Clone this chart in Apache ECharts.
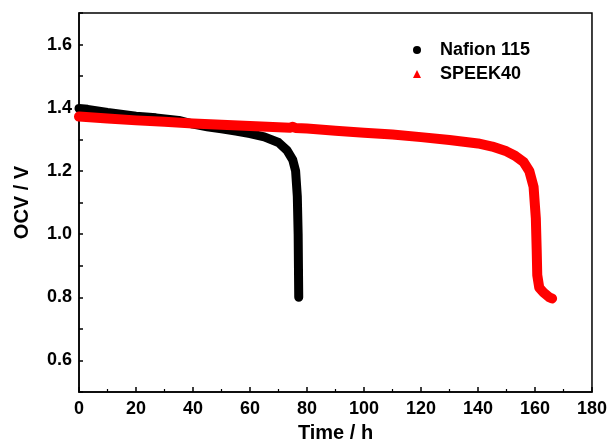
<!DOCTYPE html>
<html>
<head>
<meta charset="utf-8">
<script src="https://cdn.jsdelivr.net/npm/echarts@6/dist/echarts.min.js"></script>
<style>
  html, body { margin: 0; padding: 0; background: #fff; }
  #chart { width: 610px; height: 448px; }
</style>
</head>
<body>
<div id="chart"></div>
<script>
// OCV self-discharge curves
const nafionTime = [0, 3, 10, 20, 27, 35, 40, 45, 50, 55, 60, 65, 70, 73, 75, 76, 76.6, 76.9, 77.0, 77.1];
const nafionOcv = [1.398, 1.395, 1.385, 1.373, 1.368, 1.36, 1.348, 1.34, 1.333, 1.326, 1.318, 1.308, 1.29, 1.265, 1.235, 1.2, 1.12, 1.0, 0.9, 0.8];

const speekTime = [0, 10, 20, 30, 40, 50, 60, 70, 74, 75, 76, 80, 90, 100, 110, 120, 130, 140, 145, 150, 153, 156, 158, 159.5, 160.3, 160.6, 160.8, 161.5, 163, 165, 166];
const speekOcv = [1.372, 1.366, 1.36, 1.356, 1.35, 1.346, 1.342, 1.338, 1.337, 1.34, 1.336, 1.334, 1.327, 1.321, 1.315, 1.307, 1.298, 1.287, 1.277, 1.262, 1.248, 1.228, 1.2, 1.15, 1.05, 0.95, 0.87, 0.83, 0.815, 0.8, 0.796];

const seriesNames = ["Nafion 115", "SPEEK40"];
const seriesColors = ["#000000", "#ff0000"];

const zip = (xs, ys) => xs.map((x, i) => [x, ys[i]]);

const font = "Liberation Sans, Arial, sans-serif";
const myChart = echarts.init(document.getElementById("chart"));

var option = {
  animation: false,
  grid: {
    left: 79, right: 12, top: 13, bottom: 53,
    show: true, borderColor: "#000", borderWidth: 1.5
  },
  legend: {
    orient: "vertical",
    left: 408,
    top: 36,
    itemWidth: 8,
    itemHeight: 8,
    itemGap: 6,
    textStyle: {
      fontFamily: font, fontWeight: "bold", fontSize: 18, color: "#000",
      padding: [0, 0, 0, 14]
    },
    data: [
      { name: seriesNames[0], icon: "circle" },
      { name: seriesNames[1], icon: "triangle" }
    ]
  },
  xAxis: {
    type: "value",
    min: 0, max: 180, interval: 20,
    name: "Time / h",
    nameLocation: "middle",
    nameGap: 31,
    nameTextStyle: { fontFamily: font, fontWeight: "bold", fontSize: 20, color: "#000" },
    axisLine: { lineStyle: { color: "#000", width: 1.5 } },
    axisTick: { inside: true, length: 5, lineStyle: { color: "#000", width: 1.5 } },
    minorTick: { show: true, splitNumber: 2, length: 3, lineStyle: { color: "#000", width: 1.2 } },
    axisLabel: { fontFamily: font, fontWeight: "bold", fontSize: 18, color: "#000", margin: 8 },
    splitLine: { show: false }
  },
  yAxis: {
    type: "value",
    min: 0.5, max: 1.7, interval: 0.1,
    name: "OCV / V",
    nameLocation: "middle",
    nameGap: 47,
    nameTextStyle: { fontFamily: font, fontWeight: "bold", fontSize: 20, color: "#000" },
    axisLine: { lineStyle: { color: "#000", width: 1.5 } },
    axisTick: { inside: true, length: 4, lineStyle: { color: "#000", width: 1.5 } },
    axisLabel: {
      fontFamily: font, fontWeight: "bold", fontSize: 18, color: "#000", margin: 7,
      formatter: v => {
        const k = Math.round(v * 10);
        return k % 2 === 0 && k < 17 ? (k / 10).toFixed(1) : "";
      }
    },
    splitLine: { show: false }
  },
  series: [
    {
      name: seriesNames[0],
      type: "line",
      showSymbol: false,
      symbol: "circle",
      color: seriesColors[0],
      lineStyle: { width: 9, cap: "round", join: "round" },
      data: zip(nafionTime, nafionOcv)
    },
    {
      name: seriesNames[1],
      type: "line",
      showSymbol: false,
      symbol: "triangle",
      color: seriesColors[1],
      lineStyle: { width: 10, cap: "round", join: "round" },
      data: zip(speekTime, speekOcv)
    }
  ]
};

myChart.setOption(option);
</script>
</body>
</html>
